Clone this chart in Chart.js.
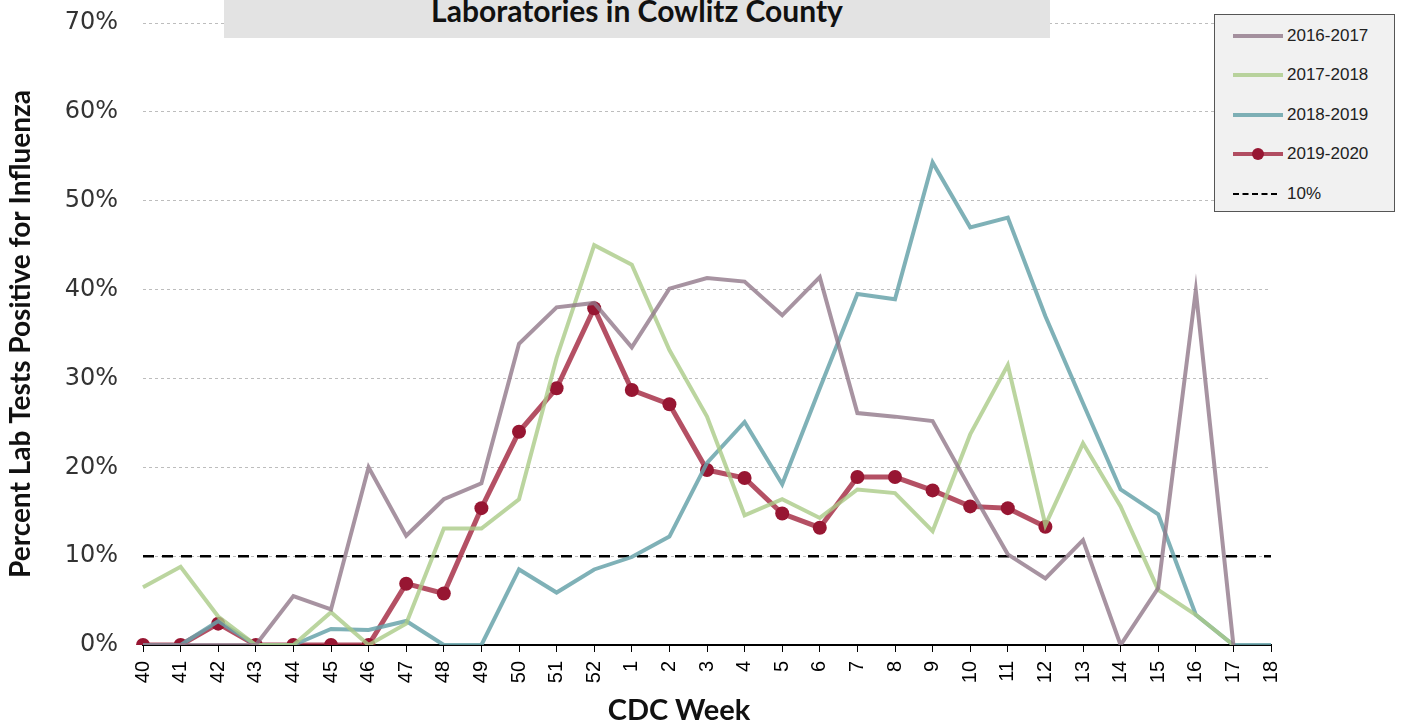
<!DOCTYPE html>
<html>
<head>
<meta charset="utf-8">
<script src="https://cdn.jsdelivr.net/npm/chart.js@4/dist/chart.umd.min.js"></script>
<style>
    body { margin: 0; background: #fff; }
    .wrap { position: relative; width: 1403px; height: 725px; }
    .title-box {
        position: absolute; left: 224px; top: 0; width: 826px; height: 38px;
        background: #e3e3e3; text-align: center; overflow: hidden;
        font: bold 30px Lato, sans-serif; line-height: 21px; color: #111;
    }
    .x-title {
        position: absolute; left: 529px; top: 694px; width: 300px; text-align: center;
        font: bold 29px Lato, sans-serif; line-height: 30px; color: #111;
    }
    .legend {
        position: absolute; left: 1214px; top: 14px; width: 179px; height: 196px;
        background: #f1f1f1; border: 1px solid #555;
        font: 17px "Liberation Sans", Arial, sans-serif; color: #222;
    }
    .legend-item { position: absolute; left: 18px; height: 20px; display: flex; align-items: center; }
    .legend-line { position: relative; width: 50px; height: 4px; margin-right: 4px; }
    .legend-dot { position: absolute; left: 19px; top: -4px; width: 12px; height: 12px; border-radius: 50%; }
    .legend-dash { width: 44px; margin-right: 10px; height: 0; border-top: 2.5px dashed #000; }
</style>
</head>
<body>
<div class="wrap">
    <canvas id="fluChart" width="1403" height="725"></canvas>
    <div class="title-box">Laboratories in Cowlitz County</div>
    <div class="x-title">CDC Week</div>
    <div class="legend" id="fluLegend"></div>
</div>
<script>
// CDC weeks (season runs week 40 through week 18)
const weeks = ['40', '41', '42', '43', '44', '45', '46', '47', '48', '49', '50', '51', '52',
    '1', '2', '3', '4', '5', '6', '7', '8', '9', '10', '11', '12', '13', '14', '15', '16', '17', '18'];

const seasons = ['2016-2017', '2017-2018', '2018-2019', '2019-2020'];

// Percent of lab tests positive
const pct2016 = [0, 0, 0, 0, 5.5, 4.0, 20.0, 12.3, 16.4, 18.2, 33.9, 38.0, 38.5,
    33.5, 40.1, 41.3, 40.9, 37.1, 41.4, 26.1, 25.7, 25.2, 17.6, 10.2, 7.5, 11.8, 0, 6.4, 39.9, 0, null];
const pct2017 = [6.5, 8.8, 3.2, 0, 0, 3.7, 0, 2.4, 13.1, 13.1, 16.4, 32.3, 45.0,
    42.8, 33.2, 25.7, 14.6, 16.4, 14.3, 17.5, 17.1, 12.8, 23.7, 31.5, 13.5, 22.7, 15.6, 6.2, 3.4, 0, null];
const pct2018 = [0, 0, 2.7, 0, 0, 1.8, 1.7, 2.7, 0, 0, 8.5, 5.9, 8.5,
    9.9, 12.2, 20.5, 25.1, 18.1, 28.9, 39.5, 38.9, 54.3, 47.0, 48.1, 37.0, 27.2, 17.5, 14.7, 3.4, 0, 0];
const pct2019 = [0, 0, 2.4, 0, 0, 0, 0, 6.9, 5.8, 15.4, 24.0, 28.9, 37.9,
    28.7, 27.1, 19.7, 18.8, 14.8, 13.2, 18.9, 18.9, 17.4, 15.6, 15.4, 13.3, null, null, null, null, null, null];
const threshold = weeks.map(() => 10);

const yTicks = [0, 10, 20, 30, 40, 50, 60, 70];

const colors = {
    gray: 'rgba(145, 120, 138, 0.8)',
    green: 'rgba(170, 202, 135, 0.8)',
    teal: 'rgba(105, 163, 170, 0.85)',
    red: 'rgba(155, 22, 48, 0.75)',
    redDot: '#971632'
};

document.addEventListener('DOMContentLoaded', function() {
    const ctx = document.getElementById('fluChart').getContext('2d');

    const lineSet = (label, data, color) => ({
        label: label,
        data: data,
        borderColor: color,
        backgroundColor: color,
        borderWidth: 4,
        pointRadius: 0,
        tension: 0,
        spanGaps: false
    });

    new Chart(ctx, {
        type: 'line',
        data: {
            labels: weeks,
            datasets: [
                lineSet(seasons[0], pct2016, colors.gray),
                lineSet(seasons[1], pct2017, colors.green),
                lineSet(seasons[2], pct2018, colors.teal),
                {
                    label: seasons[3],
                    data: pct2019,
                    borderColor: colors.red,
                    borderWidth: 5,
                    pointRadius: 7,
                    pointBackgroundColor: colors.redDot,
                    pointBorderWidth: 0,
                    tension: 0
                },
                {
                    label: '10%',
                    data: threshold,
                    borderColor: '#000',
                    borderWidth: 2.5,
                    borderDash: [11, 8],
                    pointRadius: 0
                }
            ]
        },
        options: {
            responsive: false,
            animation: false,
            layout: { padding: { top: 23, right: 132, left: 0, bottom: 0 } },
            plugins: {
                legend: { display: false },
                tooltip: { enabled: false }
            },
            scales: {
                x: {
                    offset: false,
                    afterFit: (scale) => { scale.height = 80; },
                    grid: { drawOnChartArea: false, drawTicks: true, tickLength: 7, color: '#000' },
                    border: { display: true, color: '#000', width: 2 },
                    ticks: {
                        autoSkip: false,
                        minRotation: 90,
                        maxRotation: 90,
                        padding: 9,
                        color: '#000',
                        font: { family: '"Liberation Sans", Arial', size: 20 }
                    },
                    title: { display: false }
                },
                y: {
                    min: 0,
                    max: 70,
                    afterFit: (scale) => { scale.width = 143; },
                    afterBuildTicks: (scale) => { scale.ticks = yTicks.map(v => ({ value: v })); },
                    grid: {
                        color: (c) => c.tick && c.tick.value === 0 ? 'rgba(0,0,0,0)' : '#bdbdbd',
                        drawTicks: true,
                        tickLength: 22,
                        tickColor: 'rgba(0,0,0,0)',
                        lineWidth: 1
                    },
                    border: { display: false, dash: [3, 3] },
                    ticks: {
                        padding: 3,
                        color: '#333',
                        font: { family: '"DejaVu Sans"', size: 24 },
                        callback: (v) => v + '%'
                    },
                    title: {
                        display: true,
                        text: 'Percent Lab Tests Positive for Influenza',
                        color: '#111',
                        padding: { top: 4, bottom: 0 },
                        font: { family: 'Lato', size: 28, weight: 'bold' }
                    }
                }
            }
        }
    });

    // Custom legend
    const legend = document.getElementById('fluLegend');
    const legendColors = [colors.gray, colors.green, colors.teal, colors.red];
    const rowTops = [11, 50, 90, 129, 169];
    seasons.forEach((label, i) => {
        const item = document.createElement('div');
        item.className = 'legend-item';
        item.style.top = rowTops[i] + 'px';
        const dot = i === 3 ? `<span class="legend-dot" style="background:${colors.redDot}"></span>` : '';
        item.innerHTML = `
            <span class="legend-line" style="background:${legendColors[i]}">${dot}</span>
            <span>${label}</span>
        `;
        legend.appendChild(item);
    });
    const dashItem = document.createElement('div');
    dashItem.className = 'legend-item';
    dashItem.style.top = rowTops[4] + 'px';
    dashItem.innerHTML = '<span class="legend-dash"></span><span>10%</span>';
    legend.appendChild(dashItem);
});
</script>
</body>
</html>
